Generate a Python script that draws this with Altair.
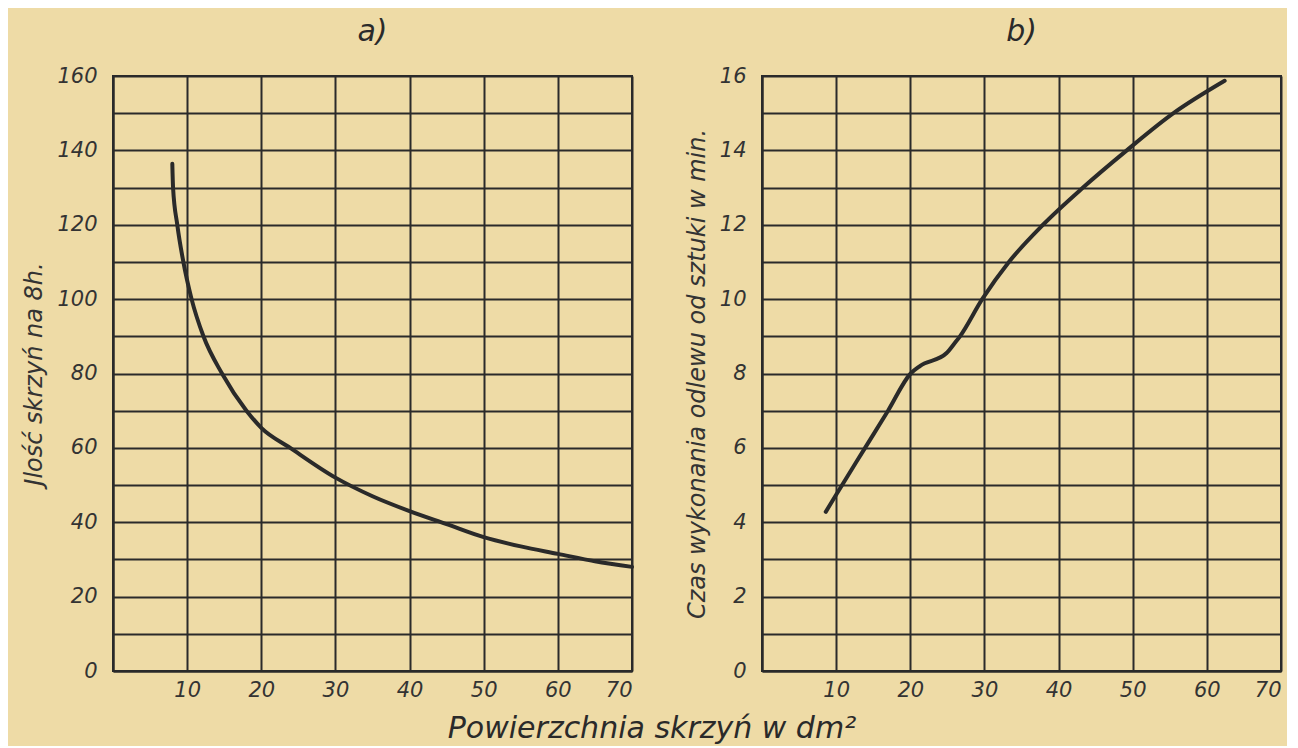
import altair as alt
import pandas as pd

# Panel a) – number of flasks per 8 h vs. flask area
a_x = [8.0, 8.1, 8.67, 9.49, 10.6, 12.2, 14.7, 18.0, 20, 23.9, 30, 35, 40, 45, 50, 55, 60, 65, 70]
a_y = [136.4, 130, 120, 110, 100, 90, 80, 70, 65.4, 60, 52, 47, 43, 39.5, 36, 33.5, 31.5, 29.5, 28]

# Panel b) – casting time per piece (min) vs. flask area
b_x = [8.6, 10, 13.9, 17.0, 20.05, 21.3, 24.9, 26.0, 26.7, 29.7, 33.3, 37.9, 43.3, 49.2, 55.5, 62.4]
b_y = [4.28, 4.74, 6.0, 7.0, 8.0, 8.2, 8.55, 8.82, 9.0, 10.0, 11.0, 12.0, 13.0, 14.0, 15.0, 15.87]

x_ticks = [0, 10, 20, 30, 40, 50, 60, 70]
a_ticks = list(range(0, 161, 10))
b_ticks = list(range(0, 17, 1))

title_a = "a)"
title_b = "b)"
ytitle_a = "Jlość skrzyń na 8h."
ytitle_b = "Czas wykonania odlewu od sztuki w min."
xtitle = "Powierzchnia skrzyń w dm²"

BG = "#EEDBA6"
INK = "#2a2a2a"
FONT = "DejaVu Sans"

df_a = pd.DataFrame({"x": a_x, "y": a_y})
df_b = pd.DataFrame({"x": b_x, "y": b_y})

x_axis = alt.Axis(values=x_ticks, title=None,
                  labelExpr="datum.value == 0 ? '' : datum.label")

def panel(df, ticks, step, ymax, ytitle, ptitle):
    return alt.Chart(df).mark_line(
        color=INK, strokeWidth=4, interpolate="monotone", strokeCap="round"
    ).encode(
        x=alt.X("x:Q", scale=alt.Scale(domain=[0, 70], nice=False), axis=x_axis),
        y=alt.Y("y:Q", scale=alt.Scale(domain=[0, ymax], nice=False),
                axis=alt.Axis(values=ticks, title=ytitle,
                              labelExpr=f"datum.value % {step} == 0 ? datum.label : ''")),
    ).properties(
        width=519, height=595,
        title=alt.TitleParams(ptitle, anchor="middle", fontSize=30, font=FONT,
                              fontStyle="italic", fontWeight="normal", color=INK, offset=18),
    )

pa = panel(df_a, a_ticks, 20, 160, ytitle_a, title_a)
pb = panel(df_b, b_ticks, 2, 16, ytitle_b, title_b)

chart = alt.hconcat(pa, pb, spacing=43).properties(
    background=BG,
    padding={"left": 13, "top": 8, "right": 5, "bottom": 2},
    title=alt.TitleParams(xtitle, orient="bottom", anchor="middle", fontSize=30, font=FONT,
                          fontStyle="italic", fontWeight="normal", color=INK, offset=13),
).configure_view(
    stroke=INK, strokeWidth=2
).configure_axis(
    grid=True, gridColor=INK, gridWidth=2, gridOpacity=1,
    domain=True, domainColor=INK, domainWidth=2,
    ticks=False,
    labelFont=FONT, labelFontSize=21, labelFontStyle="italic", labelColor="#333",
    titleFont=FONT, titleFontSize=24, titleFontStyle="italic", titleFontWeight="normal",
    titleColor="#333",
).configure_axisX(
    labelPadding=8,
).configure_axisY(
    labelPadding=16, titlePadding=10,
)

chart.save("out.html", embed_options={"renderer": "svg", "actions": False})
